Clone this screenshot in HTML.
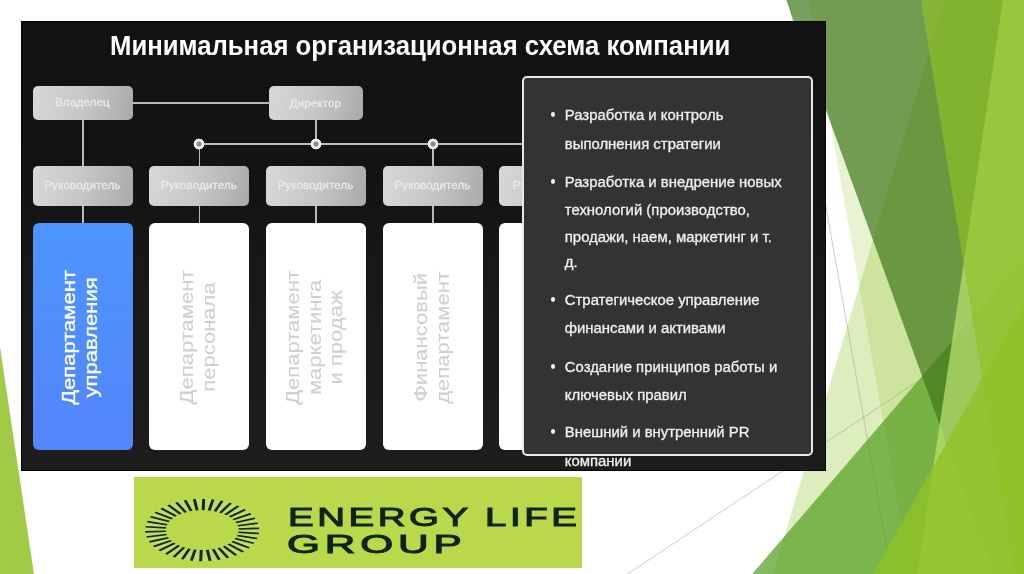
<!DOCTYPE html>
<html><head><meta charset="utf-8">
<style>
html,body{margin:0;padding:0;}
body{width:1024px;height:574px;overflow:hidden;position:relative;background:#fff;font-family:"Liberation Sans",sans-serif;}
.abs{position:absolute;}
#theme{position:absolute;left:0;top:0;width:1024px;height:574px;}
#shot{position:absolute;left:21px;top:21px;width:805px;height:450px;background:linear-gradient(180deg,#121212 0%,#131313 35%,#191919 65%,#1d1d1d 100%);overflow:hidden;filter:blur(0.3px);box-shadow:inset 0 0 0 1px #050505;}
.t{position:absolute;white-space:nowrap;}
#title{left:88.9px;top:10.7px;font-size:27.5px;line-height:1;font-weight:bold;color:#fff;transform-origin:0 0;transform:scaleX(0.9345);}
.gbox{position:absolute;border-radius:5px;background:linear-gradient(100deg,#d8d8d8 0%,#c6c6c6 50%,#aaaaaa 100%);}
.gbox span{position:absolute;left:0;right:0;text-align:center;color:#ececec;font-size:11.5px;line-height:1;-webkit-text-stroke:0.3px #e8e8e8;letter-spacing:0.15px;}
.line{position:absolute;background:#b9b9b9;}
.dot{position:absolute;width:14px;height:14px;margin:-7px 0 0 -7px;background:radial-gradient(circle at 50% 50%,#8c8c8c 0,#8c8c8c 2.3px,#f2f2f2 2.9px,#f2f2f2 5.1px,rgba(242,242,242,0) 5.7px);}
.dept{position:absolute;border-radius:6px;background:#fff;top:201.5px;height:227px;width:100px;}
.vt{position:absolute;left:50%;top:50%;white-space:nowrap;text-align:center;font-size:18.5px;line-height:21.5px;color:#d0d0d0;-webkit-text-stroke:0.1px #d0d0d0;}
#pop{position:absolute;left:501px;top:55px;width:287px;height:375.5px;border:2px solid #e8e8e8;border-radius:5px;background:#333;}
.pl{position:absolute;left:543.8px;font-size:14.9px;line-height:1;color:#f0f0f0;-webkit-text-stroke:0.3px #f0f0f0;white-space:nowrap;transform:scaleX(1.0);transform-origin:0 0;}
.bul{position:absolute;left:529.8px;width:4.7px;height:5px;border-radius:50%;background:#f4f4f4;}
.lt{position:absolute;left:154px;font-size:26.5px;line-height:1;font-weight:normal;color:#0e2418;-webkit-text-stroke:1.05px #0e2418;letter-spacing:2.45px;transform:scaleX(1.45);transform-origin:0 0;white-space:nowrap;}
#logo{position:absolute;left:134px;top:477px;width:448px;height:90.5px;background:#bbd84c;overflow:hidden;}
</style></head>
<body>
<svg id="theme" viewBox="0 0 12192000 6858000" preserveAspectRatio="none">
<g transform="translate(23800,0)">
  <line x1="9371012" y1="0" x2="10590212" y2="6858000" stroke="#bfbfbf" stroke-width="9525"/>
  <line x1="12212625" y1="3681413" x2="7449067" y2="6858000" stroke="#bfbfbf" stroke-width="9525"/>
  <polygon points="11227008,-8467 12192000,-8467 12192000,6858000 9181476,6858000" fill="#90c226" fill-opacity="0.3"/>
  <polygon points="9603442,-8467 12192000,-8467 12192000,6858000 10812902,6858000" fill="#90c226" fill-opacity="0.2"/>
  <polygon points="12192000,3048000 8932333,6858000 12192000,6858000" fill="#54a021" fill-opacity="0.72"/>
  <polygon points="9334500,-8467 12192000,-8467 12192000,6858000 11805251,6858000" fill="#3f7819" fill-opacity="0.7"/>
  <polygon points="11918465,-8467 12192000,-8467 12192000,6858000 10898730,6858000" fill="#c0e474" fill-opacity="0.7"/>
  <polygon points="10938999,-8467 12192000,-8467 12192000,6858000 12048381,6858000" fill="#90c226" fill-opacity="0.65"/>
  <polygon points="12192000,3589867 10371666,6858000 12192000,6858000" fill="#90c226" fill-opacity="0.8"/>
</g>
  <polygon points="0,4145800 0,6858000 404800,6858000" fill="#90c226" fill-opacity="0.85"/>
</svg>

<div id="shot">
  <div class="t" id="title">Минимальная организационная схема компании</div>

  <div class="gbox" style="left:11.5px;top:64.5px;width:100px;height:34px;"><span style="top:11.7px">Владелец</span></div>
  <div class="gbox" style="left:247.5px;top:65px;width:94px;height:34px;"><span style="top:11.7px">Директор</span></div>
  <div class="line" style="left:111px;top:81px;width:138px;height:1.5px;"></div>
  <div class="line" style="left:61px;top:98px;width:1.5px;height:47px;"></div>
  <div class="line" style="left:294px;top:99px;width:1.5px;height:24px;"></div>
  <div class="line" style="left:178px;top:122px;width:360px;height:1.5px;"></div>

  <div class="gbox" style="left:11.5px;top:145px;width:100px;height:40px;"><span style="top:13.9px">Руководитель</span></div>
  <div class="gbox" style="left:128px;top:145px;width:100px;height:40px;"><span style="top:13.9px">Руководитель</span></div>
  <div class="gbox" style="left:244.5px;top:145px;width:100px;height:40px;"><span style="top:13.9px">Руководитель</span></div>
  <div class="gbox" style="left:361.5px;top:145px;width:100px;height:40px;"><span style="top:13.9px">Руководитель</span></div>
  <div class="gbox" style="left:477.8px;top:145px;width:100px;height:40px;"><span style="top:13.9px;left:4px">Руководитель</span></div>

  <div class="line" style="left:61px;top:185px;width:1.5px;height:17px;"></div>
  <div class="line" style="left:177.5px;top:122px;width:1.5px;height:23px;"></div>
  <div class="line" style="left:177.5px;top:185px;width:1.5px;height:17px;"></div>
  <div class="line" style="left:294px;top:185px;width:1.5px;height:17px;"></div>
  <div class="line" style="left:411px;top:122px;width:1.5px;height:23px;"></div>
  <div class="line" style="left:411px;top:185px;width:1.5px;height:17px;"></div>
  <div class="dot" style="left:178.2px;top:122.7px;"></div>
  <div class="dot" style="left:294.9px;top:122.7px;"></div>
  <div class="dot" style="left:411.5px;top:122.7px;"></div>

  <div class="dept" style="left:11.5px;background:linear-gradient(180deg,#4d95fe,#5385fb);"><div class="vt" style="color:#fff;-webkit-text-stroke:0.3px #fff;transform:translate(-50%,-50%) translate(-3.7px,1.4px) rotate(-90deg) scaleX(1.19)">Департамент<br>управления</div></div>
  <div class="dept" style="left:128px;"><div class="vt" style="transform:translate(-50%,-50%) translate(-2.0px,1.0px) rotate(-90deg) scaleX(1.19)">Департамент<br>персонала</div></div>
  <div class="dept" style="left:244.5px;"><div class="vt" style="transform:translate(-50%,-50%) translate(-1.3px,1.4px) rotate(-90deg) scaleX(1.19)">Департамент<br>маркетинга<br>и продаж</div></div>
  <div class="dept" style="left:361.5px;"><div class="vt" style="transform:translate(-50%,-50%) translate(-1.9px,1.4px) rotate(-90deg) scaleX(1.19)">Финансовый<br>департамент</div></div>
  <div class="dept" style="left:477.8px;"></div>

  <div id="pop"></div>
  <div class="bul" style="top:90.90px"></div>
  <div class="t pl" style="top:86.93px">Разработка и контроль</div>
  <div class="t pl" style="top:115.83px">выполнения стратегии</div>
  <div class="bul" style="top:158.10px"></div>
  <div class="t pl" style="top:154.13px">Разработка и внедрение новых</div>
  <div class="t pl" style="top:181.93px">технологий (производство,</div>
  <div class="t pl" style="top:208.63px">продажи, наем, маркетинг и т.</div>
  <div class="t pl" style="top:233.83px">д.</div>
  <div class="bul" style="top:275.50px"></div>
  <div class="t pl" style="top:271.53px">Стратегическое управление</div>
  <div class="t pl" style="top:299.83px">финансами и активами</div>
  <div class="bul" style="top:342.60px"></div>
  <div class="t pl" style="top:338.63px">Создание принципов работы и</div>
  <div class="t pl" style="top:366.63px">ключевых правил</div>
  <div class="bul" style="top:407.90px"></div>
  <div class="t pl" style="top:403.93px">Внешний и внутренний PR</div>
  <div class="t pl" style="top:432.83px">компании</div>
</div>

<div id="logo">
  <svg width="448" height="90" style="position:absolute;left:0;top:0">
    <g transform="translate(68.2,53.1) scale(1,0.547)"><ellipse cx="0" cy="0" rx="47" ry="47" fill="none" stroke="#c8e190" stroke-opacity="0.45" stroke-width="20"/><path d="M0.96 -36.49L1.49 -56.98M6.95 -35.83L10.85 -55.96M12.75 -34.20L19.91 -53.41M18.21 -31.64L28.43 -49.40M23.17 -28.21L36.18 -44.05M27.49 -24.01L42.93 -37.49M31.07 -19.16L48.52 -29.92M33.80 -13.78L52.78 -21.52M35.61 -8.03L55.60 -12.54M36.44 -2.06L56.91 -3.22M36.28 3.97L56.66 6.19M35.14 9.88L54.87 15.43M33.03 15.53L51.58 24.26M30.02 20.76L46.89 32.41M26.20 25.42L40.91 39.69M21.66 29.38L33.82 45.88M16.53 32.54L25.81 50.82M10.94 34.82L17.09 54.38M5.06 36.15L7.91 56.45M-0.96 36.49L-1.49 56.98M-6.95 35.83L-10.85 55.96M-12.75 34.20L-19.91 53.41M-18.21 31.64L-28.43 49.40M-23.17 28.21L-36.18 44.05M-27.49 24.01L-42.93 37.49M-31.07 19.16L-48.52 29.92M-33.80 13.78L-52.78 21.52M-35.61 8.03L-55.60 12.54M-36.44 2.06L-56.91 3.22M-36.28 -3.97L-56.66 -6.19M-35.14 -9.88L-54.87 -15.43M-33.03 -15.53L-51.58 -24.26M-30.02 -20.76L-46.89 -32.41M-26.20 -25.42L-40.91 -39.69M-21.66 -29.38L-33.82 -45.88M-16.53 -32.54L-25.81 -50.82M-10.94 -34.82L-17.09 -54.38M-5.06 -36.15L-7.91 -56.45" stroke="#10280f" stroke-width="3" fill="none"/></g>
  </svg>
  <div class="lt" style="top:26.6px">ENERGY LIFE</div>
  <div class="lt" style="top:53.6px;left:152.5px;transform:scaleX(1.6);letter-spacing:3px">GROUP</div>
</div>
</body></html>
